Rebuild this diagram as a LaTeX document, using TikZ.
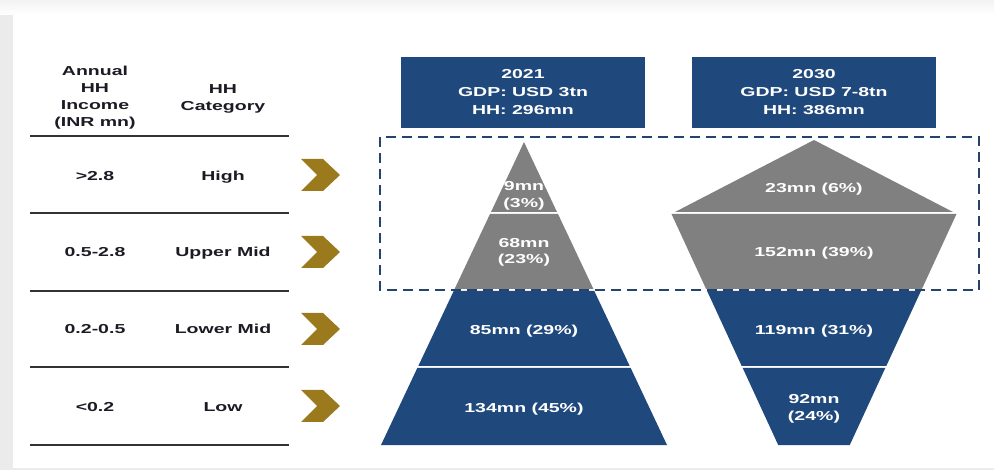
\documentclass[tikz,border=0pt]{standalone}
\usepackage{fontspec}
\setmainfont{Liberation Sans}[FakeStretch=1.5]
\definecolor{navy}{HTML}{1F497D}
\definecolor{dashnavy}{HTML}{24446E}
\definecolor{segray}{HTML}{808080}
\definecolor{gold}{HTML}{9A7A1C}
\definecolor{ink}{HTML}{1B1B24}
\definecolor{rulegray}{HTML}{333333}
\definecolor{framegray}{HTML}{EBEBEB}
\begin{document}
\begin{tikzpicture}[x=1pt,y=-1pt,
  lbl/.style={font=\bfseries\fontsize{13}{17}\selectfont, text=ink, align=center, inner sep=0pt},
  wlbl/.style={lbl, text=white, font=\bfseries\fontsize{13}{16.5}\selectfont},
  yearbox/.style={lbl, text=white, fill=navy, minimum width=244pt, minimum height=71pt,
                  font=\bfseries\fontsize{13}{18}\selectfont},
  tablerule/.style={draw=rulegray, line width=1.4pt},
  dashbox/.style={draw=dashnavy, line width=1.5pt, dash pattern=on 10pt off 6pt},
  greyseg/.style={fill=segray},
  navyseg/.style={fill=navy},
  chev/.pic={\fill[gold] (-19,-16) -- (3,-16) -- (20,0) -- (3,16) -- (-19,16) -- (-3,0) -- cycle;}
]
\useasboundingbox (0,0) rectangle (994,470);
% card on a light grey backdrop
\fill[framegray] (0,0) rectangle (994,470);
\shade[top color=framegray!60, bottom color=framegray!110!black] (0,0) rectangle (994,15);
\fill[white] (13,15) rectangle (994,468);

% table header
\node[lbl] (hinc) at (95,98) {Annual\\HH\\Income\\(INR mn)};
\node[lbl] (hcat) at (223,98.5) {HH\\Category};

% table rules
\coordinate (r0l) at (30,136); \coordinate (r0r) at (289,136);
\coordinate (r1l) at (30,213); \coordinate (r1r) at (289,213);
\coordinate (r2l) at (30,291); \coordinate (r2r) at (289,291);
\coordinate (r3l) at (30,367); \coordinate (r3r) at (289,367);
\coordinate (r4l) at (30,445); \coordinate (r4r) at (289,445);
\foreach \r in {0,...,4} \draw[tablerule] (r\r l) -- (r\r r);

% table rows
\node[lbl, anchor=base] (inc1) at (95,181) {>2.8};
\node[lbl, anchor=base] (cat1) at (223,181) {High};
\node[lbl, anchor=base] (inc2) at (95,257) {0.5-2.8};
\node[lbl, anchor=base] (cat2) at (223,257) {Upper Mid};
\node[lbl, anchor=base] (inc3) at (95,334) {0.2-0.5};
\node[lbl, anchor=base] (cat3) at (223,334) {Lower Mid};
\node[lbl, anchor=base] (inc4) at (95,412) {<0.2};
\node[lbl, anchor=base] (cat4) at (223,412) {Low};

% chevrons
\pic (ch1) at (320,175) {chev};
\pic (ch2) at (320,252) {chev};
\pic (ch3) at (320,329) {chev};
\pic (ch4) at (320,406) {chev};

% year headers
\node[yearbox] (y2021) at (523,92.5) {2021\\GDP: USD 3tn\\HH: 296mn};
\node[yearbox] (y2030) at (814,92.5) {2030\\GDP: USD 7-8tn\\HH: 386mn};

% 2021 pyramid
\fill[greyseg] (524,142) -- (557,212) -- (491,212) -- cycle;
\fill[greyseg] (490,214) -- (558,214) -- (593.4,289) -- (454.6,289) -- cycle;
\fill[navyseg] (453.7,291) -- (594.3,291) -- (629.7,366) -- (418.3,366) -- cycle;
\fill[navyseg] (417.3,368) -- (630.7,368) -- (667,445) -- (381,445) -- cycle;

% 2030 shape
\fill[greyseg] (814,140) -- (953,212) -- (675,212) -- cycle;
\fill[greyseg] (671.5,214) -- (956.5,214) -- (921.9,289) -- (706.1,289) -- cycle;
\fill[navyseg] (707.1,291) -- (920.9,291) -- (886.3,366) -- (741.7,366) -- cycle;
\fill[navyseg] (742.7,368) -- (885.3,368) -- (849.8,445) -- (778.2,445) -- cycle;

% dashed frame around the upper classes
\draw[dashbox] (380,137) rectangle (979,290);

% segment labels
\node[wlbl] (p21a) at (524,196) {9mn\\(3\%)};
\node[wlbl] (p21b) at (524,252.5) {68mn\\(23\%)};
\node[wlbl, anchor=base] (p21c) at (524,335) {85mn (29\%)};
\node[wlbl, anchor=base] (p21d) at (524,413) {134mn (45\%)};
\node[wlbl, anchor=base] (p30a) at (814,193) {23mn (6\%)};
\node[wlbl, anchor=base] (p30b) at (814,257) {152mn (39\%)};
\node[wlbl, anchor=base] (p30c) at (814,335) {119mn (31\%)};
\node[wlbl] (p30d) at (814,409) {92mn\\(24\%)};
\end{tikzpicture}
\end{document}
